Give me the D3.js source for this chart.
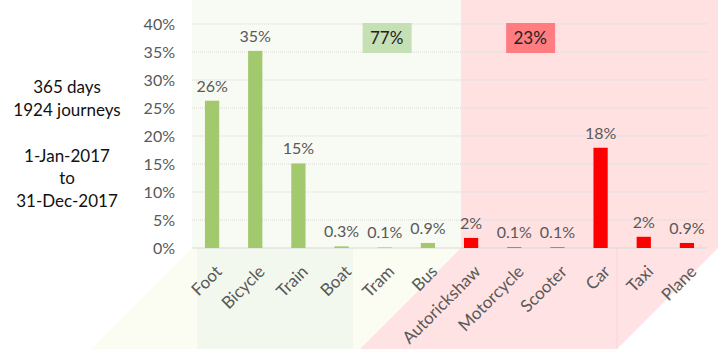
<!DOCTYPE html>
<html lang="en">
  <head>
    <meta charset="utf-8" />
    <title>Journeys 2017</title>
    <script type="text/javascript" src="https://cdn.jsdelivr.net/npm/d3@7"></script>
    <style type="text/css">
body { margin: 0; background: white; }
svg text { font-family: Lato, "Open Sans", sans-serif; }
    </style>
  </head>
  <body>
    <script type="text/javascript">
// modes of transport, share of journeys in %
var categories = ["Foot", "Bicycle", "Train", "Boat", "Tram", "Bus",
                  "Autorickshaw", "Motorcycle", "Scooter", "Car", "Taxi", "Plane"];
var shares = [26.3, 35.2, 15.1, 0.3, 0.1, 0.9, 1.8, 0.1, 0.1, 17.9, 2.0, 0.9];
var shareLabels = ["26%", "35%", "15%", "0.3%", "0.1%", "0.9%",
                   "2%", "0.1%", "0.1%", "18%", "2%", "0.9%"];
var groups = ["green", "green", "green", "green", "green", "green",
              "red", "red", "red", "red", "red", "red"];
var groupTotals = ["77%", "23%"];
var yTicks = [0, 5, 10, 15, 20, 25, 30, 35, 40];
var sideNotes = ["365 days", "1924 journeys", "", "1-Jan-2017", "to", "31-Dec-2017"];

var w = 723;
var h = 354;
var pad = { left: 192, right: 16, top: 24, bottom: 106 };
var barColor = { green: "#a3c96e", red: "#ff0000" };

var svg = d3.select("body")
            .append("svg")
            .attr("width", w)
            .attr("height", h);

var xScale = d3.scaleBand()
               .domain(categories)
               .range([pad.left, w - pad.right])
               .paddingInner(0.67)
               .paddingOuter(0.3);
var yScale = d3.scaleLinear()
               .domain([0, 40])
               .range([h - pad.bottom, pad.top]);

var base = yScale(0);
var x0 = pad.left;
var xSplit = xScale("Autorickshaw") - 3;
var xEnd = w - pad.right + 11;
var depth = 101; // how far the floor panels reach down

// background panels
var bg = svg.append("g").attr("id", "panels");
bg.append("rect")
  .attr("x", x0).attr("y", 0)
  .attr("width", xSplit - x0).attr("height", base)
  .attr("fill", "#f8fbf3");
bg.append("rect")
  .attr("x", xSplit).attr("y", 0)
  .attr("width", xEnd - xSplit).attr("height", base)
  .attr("fill", "#ffe1e2");
bg.append("polygon")
  .attr("points", [[x0, base], [xSplit, base],
                   [xSplit - depth, base + depth], [x0 - depth, base + depth]].join(" "))
  .attr("fill", "#fbfdf2");
bg.append("rect")
  .attr("x", x0 + 5).attr("y", base)
  .attr("width", 156).attr("height", depth)
  .attr("fill", "#f3f8ee");
bg.append("polygon")
  .attr("points", [[xSplit, base], [xEnd, base],
                   [xEnd - depth, base + depth], [xSplit - depth, base + depth]].join(" "))
  .attr("fill", "#ffe3e4");
bg.append("line")
  .attr("x1", xEnd - depth).attr("x2", xEnd - depth)
  .attr("y1", base).attr("y2", base + depth)
  .attr("stroke", "#f6d6d8");

// gridlines
svg.append("g")
   .attr("id", "grid")
   .selectAll("line")
   .data(yTicks.filter(function(d) { return d > 0; }))
   .enter()
   .append("line")
   .attr("x1", pad.left)
   .attr("x2", w - pad.right)
   .attr("y1", function(d) { return yScale(d); })
   .attr("y2", function(d) { return yScale(d); })
   .attr("stroke", "#d9d9d9")
   .attr("stroke-dasharray", "1,1");
svg.append("line")
   .attr("x1", pad.left).attr("x2", w - pad.right)
   .attr("y1", base).attr("y2", base)
   .attr("stroke", "#d9d9d9");

// y axis labels
svg.append("g")
   .attr("id", "y_labels")
   .selectAll("text")
   .data(yTicks)
   .enter()
   .append("text")
   .text(function(d) { return d + "%"; })
   .attr("x", 175)
   .attr("y", function(d) { return yScale(d); })
   .attr("dy", "0.36em")
   .attr("text-anchor", "end")
   .attr("font-size", "16px")
   .attr("fill", "#595959");

// bars
svg.append("g")
   .attr("id", "bars")
   .selectAll("rect")
   .data(categories)
   .enter()
   .append("rect")
   .attr("x", function(d) { return xScale(d); })
   .attr("y", function(d, i) { return yScale(shares[i]); })
   .attr("width", xScale.bandwidth())
   .attr("height", function(d, i) { return base - yScale(shares[i]); })
   .attr("fill", function(d, i) { return barColor[groups[i]]; });

// value labels
svg.append("g")
   .attr("id", "bar_labels")
   .selectAll("text")
   .data(categories)
   .enter()
   .append("text")
   .text(function(d, i) { return shareLabels[i]; })
   .attr("x", function(d) { return xScale(d) + xScale.bandwidth() / 2; })
   .attr("y", function(d, i) { return yScale(shares[i]) - 9; })
   .attr("text-anchor", "middle")
   .attr("font-size", "16px")
   .attr("fill", "#595959");

// category labels, slanted
svg.append("g")
   .attr("id", "cat_labels")
   .selectAll("text")
   .data(categories)
   .enter()
   .append("text")
   .text(function(d) { return d; })
   .attr("transform", function(d) {
     return "translate(" + (xScale(d) + xScale.bandwidth() / 2 + 2) + "," + (base + 16) + ") rotate(-45)";
   })
   .attr("dy", "0.72em")
   .attr("text-anchor", "end")
   .attr("font-size", "17px")
   .attr("fill", "#595959");

// group totals
var totalBoxes = [
  { label: groupTotals[0], cx: xScale("Tram") + 9, fill: "#c5e0b4" },
  { label: groupTotals[1], cx: xScale("Motorcycle") + 23, fill: "#ff7c80" }
];
var boxes = svg.append("g").attr("id", "totals")
               .selectAll("g")
               .data(totalBoxes)
               .enter()
               .append("g");
boxes.append("rect")
     .attr("x", function(d) { return d.cx - 24; })
     .attr("y", yScale(40) - 1)
     .attr("width", 49)
     .attr("height", yScale(35) - yScale(40) + 2)
     .attr("fill", function(d) { return d.fill; });
boxes.append("text")
     .text(function(d) { return d.label; })
     .attr("x", function(d) { return d.cx; })
     .attr("y", (yScale(40) + yScale(35)) / 2)
     .attr("dy", "0.36em")
     .attr("text-anchor", "middle")
     .attr("font-size", "17px")
     .attr("fill", "#222");

// notes on the left
svg.append("g")
   .attr("id", "notes")
   .selectAll("text")
   .data(sideNotes)
   .enter()
   .append("text")
   .text(function(d) { return d; })
   .attr("x", 67)
   .attr("y", function(d, i) { return 87 + i * 22.8; })
   .attr("dy", "0.36em")
   .attr("text-anchor", "middle")
   .attr("font-size", "17px")
   .attr("fill", "#111");
    </script>
  </body>
</html>
